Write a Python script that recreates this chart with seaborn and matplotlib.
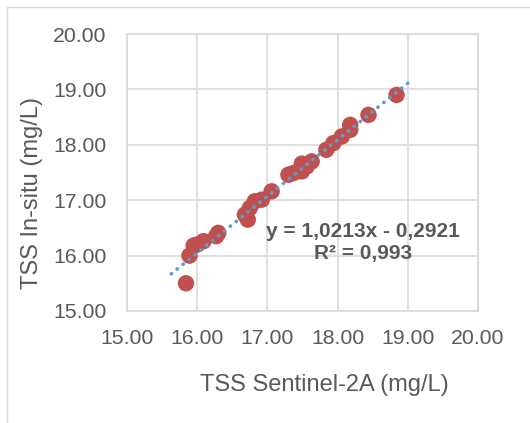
import numpy as np
import pandas as pd
import matplotlib
matplotlib.use("Agg")
import matplotlib.pyplot as plt
import seaborn as sns
from matplotlib.patches import Rectangle

# Data
tss_sentinel = [15.84, 15.89, 15.95, 16.00, 16.09, 16.27, 16.30, 16.68, 16.72, 16.75,
                16.82, 16.92, 17.06, 17.30, 17.37, 17.49, 17.49, 17.56, 17.63, 17.84,
                17.94, 18.06, 18.18, 18.18, 18.44, 18.84]
tss_insitu = [15.50, 16.00, 16.18, 16.20, 16.26, 16.35, 16.41, 16.74, 16.65, 16.86,
              16.98, 17.01, 17.16, 17.46, 17.49, 17.66, 17.52, 17.61, 17.70, 17.91,
              18.03, 18.15, 18.27, 18.36, 18.54, 18.90]
trend_coef = [1.0213, -0.2921]
trend_x_range = [15.63, 19.0]
ticks = [15, 16, 17, 18, 19, 20]
tick_labels = ["15.00", "16.00", "17.00", "18.00", "19.00", "20.00"]
eq_text = "y = 1,0213x - 0,2921"
r2_text = "R² = 0,993"

sns.set_style("white")
plt.rcParams['font.family'] = ['Liberation Sans', 'DejaVu Sans']

df = pd.DataFrame({"x": tss_sentinel, "y": tss_insitu})

fig = plt.figure(figsize=(5.30, 4.23), dpi=100)
ax = fig.add_axes([0.2396, 0.2648, 0.6623, 0.6548])

# outer chart frame
fig.patches.append(Rectangle((7 / 530, -0.1), 1.2, 1 - 7 / 423 + 0.1,
                             transform=fig.transFigure, fill=False,
                             edgecolor="#D9D9D9", linewidth=1.0))

sns.scatterplot(data=df, x="x", y="y", ax=ax, s=140, color="#C0504D",
                edgecolor="none", zorder=3, legend=False)

tx = np.array(trend_x_range)
ty = trend_coef[0] * tx + trend_coef[1]
ax.plot(tx, ty, color="#5B9BD5", linewidth=2.6, linestyle=(0, (0.1, 2.0)),
        dash_capstyle="round", zorder=4)

ax.set_xlim(15, 20)
ax.set_ylim(15, 20)
ax.set_xticks(ticks)
ax.set_yticks(ticks)
ax.set_xticklabels(tick_labels)
ax.set_yticklabels(tick_labels)
ax.grid(True, color="#D9D9D9", linewidth=1.2)
ax.set_axisbelow(True)
for s in ax.spines.values():
    s.set_color("#D9D9D9")
    s.set_linewidth(1.2)
ax.tick_params(axis="both", length=0, labelsize=15.3, labelcolor="#595959")
ax.tick_params(axis="x", pad=13)
ax.tick_params(axis="y", pad=15)

ax.set_xlabel("TSS Sentinel-2A (mg/L)", fontsize=17, color="#595959")
ax.set_ylabel("TSS In-situ (mg/L)", fontsize=17, color="#595959")
ax.xaxis.label.set_va("center")
ax.yaxis.label.set_va("center")
ax.xaxis.set_label_coords(0.561, -0.267)
ax.yaxis.set_label_coords(-0.271, 0.426)

ax.text(18.36, 16.44, eq_text, ha="center", va="center", fontsize=15,
        fontweight="bold", color="#595959", zorder=5)
ax.text(18.36, 16.03, r2_text, ha="center", va="center", fontsize=15,
        fontweight="bold", color="#595959", zorder=5)

fig.savefig("out.png", dpi=100)
